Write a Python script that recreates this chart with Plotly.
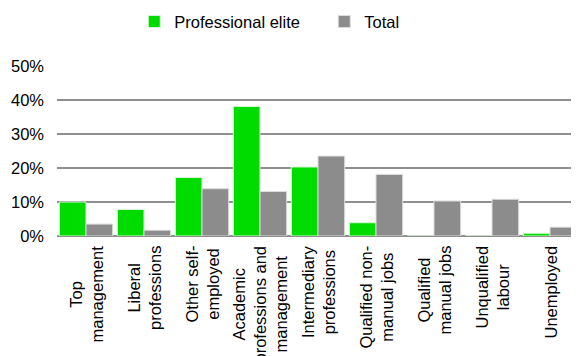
import plotly.graph_objects as go

categories = [
    "Top management",
    "Liberal professions",
    "Other self-employed",
    "Academic professions and management",
    "Intermediary professions",
    "Qualified non-manual jobs",
    "Qualified manual jobs",
    "Unqualified labour",
    "Unemployed",
]
tick_labels = [
    "Top<br>management",
    "Liberal<br>professions",
    "Other self-<br>employed",
    "Academic<br>professions and<br>management",
    "Intermediary<br>professions",
    "Qualified non-<br>manual jobs",
    "Qualified<br>manual jobs",
    "Unqualified<br>labour",
    "Unemployed",
]
elite = [0.100, 0.078, 0.172, 0.381, 0.203, 0.039, 0.0, 0.0, 0.008]
total = [0.035, 0.017, 0.139, 0.131, 0.235, 0.181, 0.103, 0.108, 0.026]
y_ticks = [0, 0.1, 0.2, 0.3, 0.4, 0.5]

FONT = "Liberation Sans, Arial, sans-serif"

fig = go.Figure()
fig.add_trace(go.Bar(x=categories, y=elite, name="Professional elite",
                     marker=dict(color="#00DC00", line=dict(color="#d8f5d8", width=1))))
fig.add_trace(go.Bar(x=categories, y=total, name="Total",
                     marker=dict(color="#8C8C8C", line=dict(color="#dcdcdc", width=1))))

for cat, lab in zip(categories, tick_labels):
    fig.add_annotation(x=cat, xref="x", y=0, yref="paper", yanchor="top",
                       xanchor="center", yshift=-8, text=lab, textangle=-90,
                       align="center", showarrow=False,
                       font=dict(family=FONT, size=16.5, color="black"))

fig.update_layout(
    width=571, height=348,
    margin=dict(l=49, r=0, t=58, b=120, autoexpand=False),
    paper_bgcolor="white", plot_bgcolor="white",
    barmode="group", bargap=0.08, bargroupgap=0,
    font=dict(family=FONT, size=16.5, color="black"),
    legend=dict(orientation="h", x=0.512, xref="paper", xanchor="center",
                y=1.26, yref="paper", yanchor="middle",
                font=dict(size=16.5), itemwidth=30, tracegroupgap=0,
                entrywidth=145, entrywidthmode="pixels"),
    showlegend=True,
)
fig.update_xaxes(showticklabels=False, showline=False, showgrid=False, ticks="",
                 automargin=False)
fig.update_yaxes(range=[0, 0.5], tickvals=y_ticks, tickformat=".0%",
                 showgrid=True, gridcolor="#8f8f8f", gridwidth=1.5,
                 zeroline=True, zerolinecolor="#8f8f8f", zerolinewidth=1.5,
                 showline=False, ticks="", tickfont=dict(size=16.5),
                 ticklabelstandoff=12, automargin=False)

fig.write_html("out.html")
